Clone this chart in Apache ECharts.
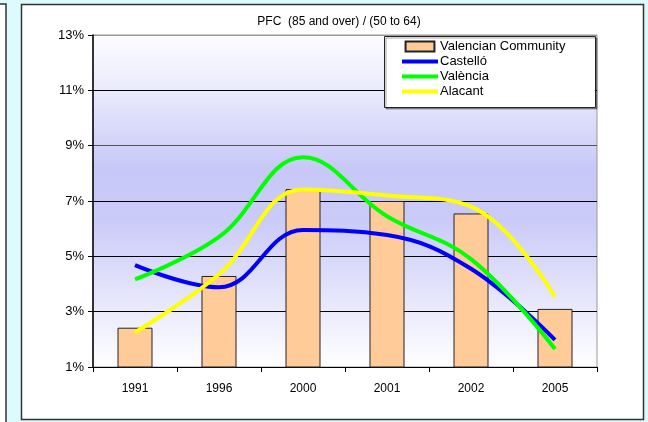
<!DOCTYPE html>
<html lang="en">
<head>
    <meta charset="UTF-8">
    <title>PFC (85 and over) / (50 to 64)</title>
    <script src="https://cdn.jsdelivr.net/npm/echarts@6/dist/echarts.min.js"></script>
    <style>
        body { margin: 0; padding: 0; background: #ddfafd; }
        #chart { width: 648px; height: 422px; }
    </style>
</head>
<body>
    <div id="chart"></div>
    <script>
        // data (percent)
        var years = ['1991', '1996', '2000', '2001', '2002', '2005'];
        var community = [2.42, 4.29, 7.43, 7.0, 6.55, 3.1];
        var castello = [4.68, 3.88, 5.95, 5.77, 4.55, 1.98];
        var valencia = [4.17, 5.7, 8.58, 6.45, 4.9, 1.65];
        var alacant = [2.25, 4.35, 7.42, 7.2, 6.8, 3.54];

        var font = 'Liberation Sans, Arial, sans-serif';
        var lineIcon = 'path://M0,0L36,0L36,4L0,4Z';
        var myChart = echarts.init(document.getElementById('chart'));

        function lineSeries(name, data, color) {
            return {
                name: name,
                type: 'line',
                data: data,
                smooth: 0.4,
                symbol: 'none',
                z: 5,
                itemStyle: { color: color },
                lineStyle: { color: color, width: 4 }
            };
        }

        myChart.setOption({
            backgroundColor: '#ddfafd',
            animation: false,
            graphic: [
                // left neighbour panel
                { type: 'rect', z: -10, shape: { x: -2, y: 4, width: 8, height: 420 },
                  style: { fill: '#fff', stroke: '#333', lineWidth: 1.5 } },
                // chart box
                { type: 'rect', z: -10, shape: { x: 21.5, y: 4.5, width: 622, height: 415 },
                  style: { fill: '#fff', stroke: '#333', lineWidth: 1.5 } },
                // legend box
                { type: 'rect', z: 20, shape: { x: 384.5, y: 36.5, width: 211, height: 71 },
                  style: { fill: '#fff', stroke: '#222', lineWidth: 1,
                           shadowColor: 'rgba(0,0,0,0.35)', shadowOffsetX: 1.5, shadowOffsetY: 1.5 } }
            ],
            title: {
                text: 'PFC  (85 and over) / (50 to 64)',
                left: 334,
                textAlign: 'center',
                top: 11,
                textStyle: { fontFamily: font, fontSize: 12, fontWeight: 'normal', color: '#000' }
            },
            legend: {
                orient: 'vertical',
                left: 402,
                top: 40,
                z: 21,
                itemWidth: 36,
                itemHeight: 10,
                itemGap: 2,
                padding: 0,
                textStyle: { fontFamily: font, fontSize: 13, color: '#000', padding: [0, 0, 0, -3] },
                data: [
                    { name: 'Valencian Community', icon: 'path://M0,0L26,0L26,9L0,9Z' },
                    { name: 'Castelló', icon: lineIcon },
                    { name: 'València', icon: lineIcon },
                    { name: 'Alacant', icon: lineIcon }
                ]
            },
            grid: {
                left: 93,
                right: 51,
                top: 35,
                bottom: 55,
                show: true,
                borderColor: '#999',
                borderWidth: 1,
                backgroundColor: new echarts.graphic.LinearGradient(0, 0, 0, 1, [
                    { offset: 0, color: '#fdfdff' },
                    { offset: 0.17, color: '#eaeafd' },
                    { offset: 0.4, color: '#c8c8f8' },
                    { offset: 0.56, color: '#cbcbf9' },
                    { offset: 0.76, color: '#e2e2fb' },
                    { offset: 1, color: '#ffffff' }
                ])
            },
            xAxis: {
                type: 'category',
                data: years,
                boundaryGap: true,
                axisLine: { lineStyle: { color: '#000', width: 1 } },
                axisTick: { show: true, length: 5, lineStyle: { color: '#000' } },
                axisLabel: { fontFamily: font, fontSize: 12, color: '#000', margin: 16 }
            },
            yAxis: {
                type: 'value',
                min: 1,
                max: 13,
                interval: 2,
                axisLine: { show: true, lineStyle: { color: '#000', width: 1.5 } },
                axisTick: { show: true, length: 5, lineStyle: { color: '#000' } },
                axisLabel: { fontFamily: font, fontSize: 13, color: '#000', margin: 9, formatter: '{value}%' },
                splitLine: { show: true, lineStyle: { color: ['#000', '#000', '#000', '#000', '#555', '#000', '#999'], width: 1 } }
            },
            series: [
                {
                    name: 'Valencian Community',
                    type: 'bar',
                    data: community,
                    barWidth: 35,
                    z: 3,
                    itemStyle: { color: '#ffcc99', borderColor: '#222', borderWidth: 1 }
                },
                lineSeries('Castelló', castello, '#0000ff'),
                lineSeries('València', valencia, '#00ff00'),
                lineSeries('Alacant', alacant, '#ffff00')
            ]
        });
    </script>
</body>
</html>
